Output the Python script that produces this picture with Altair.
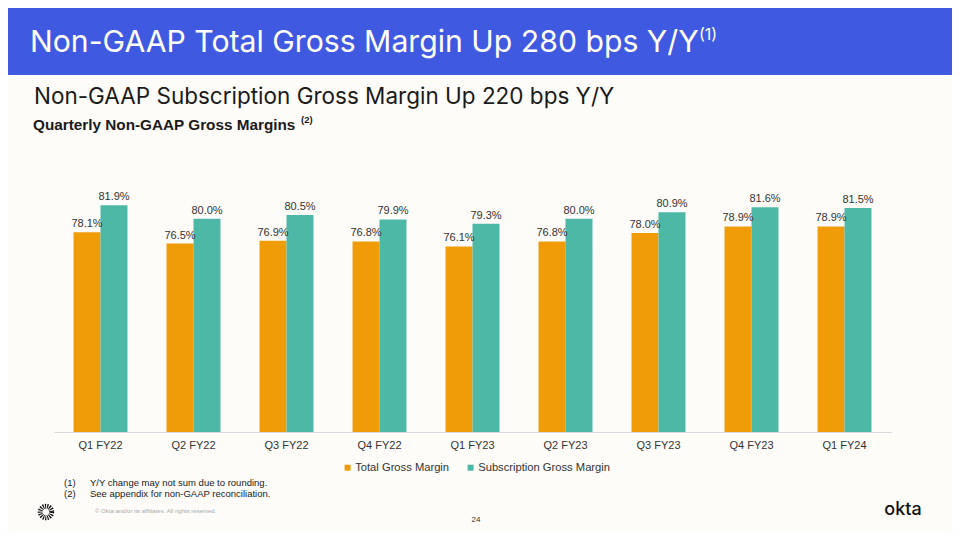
import altair as alt
import pandas as pd

quarters = ["Q1 FY22", "Q2 FY22", "Q3 FY22", "Q4 FY22", "Q1 FY23", "Q2 FY23", "Q3 FY23", "Q4 FY23", "Q1 FY24"]
total_gm = [78.1, 76.5, 76.9, 76.8, 76.1, 76.8, 78.0, 78.9, 78.9]
subs_gm = [81.9, 80.0, 80.5, 79.9, 79.3, 80.0, 80.9, 81.6, 81.5]
series = ["Total Gross Margin", "Subscription Gross Margin"]
colors = ["#F09C08", "#4DB8A5"]

rows = []
for q, t, s in zip(quarters, total_gm, subs_gm):
    rows.append({"quarter": q, "series": series[0], "value": t, "label": f"{t:.1f}%"})
    rows.append({"quarter": q, "series": series[1], "value": s, "label": f"{s:.1f}%"})
df = pd.DataFrame(rows)

HEAD = "Inter"
BODY = "Liberation Sans"

x_enc = alt.X("quarter:N", sort=quarters,
              scale=alt.Scale(paddingInner=0.42, paddingOuter=0.21),
              axis=alt.Axis(title=None, labelAngle=0, ticks=False, domainColor="#d9d9d9",
                            labelFontSize=11, labelColor="#333333", labelFont=BODY,
                            labelPadding=7))
y_enc = alt.Y("value:Q", scale=alt.Scale(domain=[50, 86], zero=False, nice=False), axis=None)
xoff = alt.XOffset("series:N", sort=series, scale=alt.Scale(paddingInner=0))

bars = alt.Chart(df).mark_bar().encode(
    x=x_enc, y=y_enc, y2=alt.datum(50), xOffset=xoff,
    color=alt.Color("series:N", sort=series,
                    scale=alt.Scale(domain=series, range=colors),
                    legend=alt.Legend(title=None, orient="none", legendX=288, legendY=286,
                                      direction="horizontal", symbolType="square",
                                      symbolSize=36, labelFontSize=11.2, labelFont=BODY,
                                      labelColor="#333333", columnPadding=15, labelOffset=2))
)

labels = alt.Chart(df).mark_text(baseline="bottom", dy=-3, fontSize=11, font=BODY,
                                 color="#333333").encode(
    x=x_enc, y=y_enc, xOffset=xoff, text="label:N"
)

one = pd.DataFrame({"a": [0]})

def txt(s, x, y, size, color="#1a1a1a", weight="normal", font=HEAD, align="left", baseline="alphabetic"):
    return alt.Chart(one).mark_text(text=s, fontSize=size, color=color, fontWeight=weight,
                                    font=font, align=align, baseline=baseline).encode(
        x=alt.value(x), y=alt.value(y))

header = alt.Chart(one).mark_rect(color="#3F5AE0").encode(
    x=alt.value(-46), x2=alt.value(898), y=alt.value(-168), y2=alt.value(-101))

decor = [
    header,
    txt("Non-GAAP Total Gross Margin Up 280 bps Y/Y", -24, -124, 30.2, color="#ffffff"),
    txt("(1)", 645, -136, 16, color="#ffffff"),
    txt("Non-GAAP Subscription Gross Margin Up 220 bps Y/Y", -20, -72, 22.5),
    txt("Quarterly Non-GAAP Gross Margins", -21, -46, 15.3, weight="bold", font=BODY),
    txt("(2)", 247, -53, 9.5, weight="bold", font=BODY),
    txt("(1)", 10, 310, 9.5, font=BODY),
    txt("Y/Y change may not sum due to rounding.", 36, 310, 9.5, font=BODY),
    txt("(2)", 10, 321, 9.5, font=BODY),
    txt("See appendix for non-GAAP reconciliation.", 36, 321, 9.5, font=BODY),
    txt("© Okta and/or its affiliates. All rights reserved.", 41, 335, 6, color="#aaaaaa",
        font=BODY, baseline="middle"),
    txt("24", 422, 344, 8, color="#333333", font=BODY, align="center", baseline="middle"),
    txt("okta", 849, 334, 18, color="#111111", weight=500, align="center", baseline="middle"),
    alt.Chart(one).mark_point(shape="circle", size=130, strokeWidth=5, stroke="#111111",
                              filled=False, strokeDash=[1.1, 1.0], opacity=1).encode(
        x=alt.value(-8), y=alt.value(336)),
]

chart = alt.layer(*decor, bars, labels).properties(
    width=837, height=256,
    padding={"left": 46, "top": 168, "right": 61, "bottom": 100},
    autosize=alt.AutoSizeParams(type="none"),
    background="#FDFCF9",
).configure_view(stroke=None)

chart.save("out.html", embed_options={"renderer": "svg", "actions": False})
